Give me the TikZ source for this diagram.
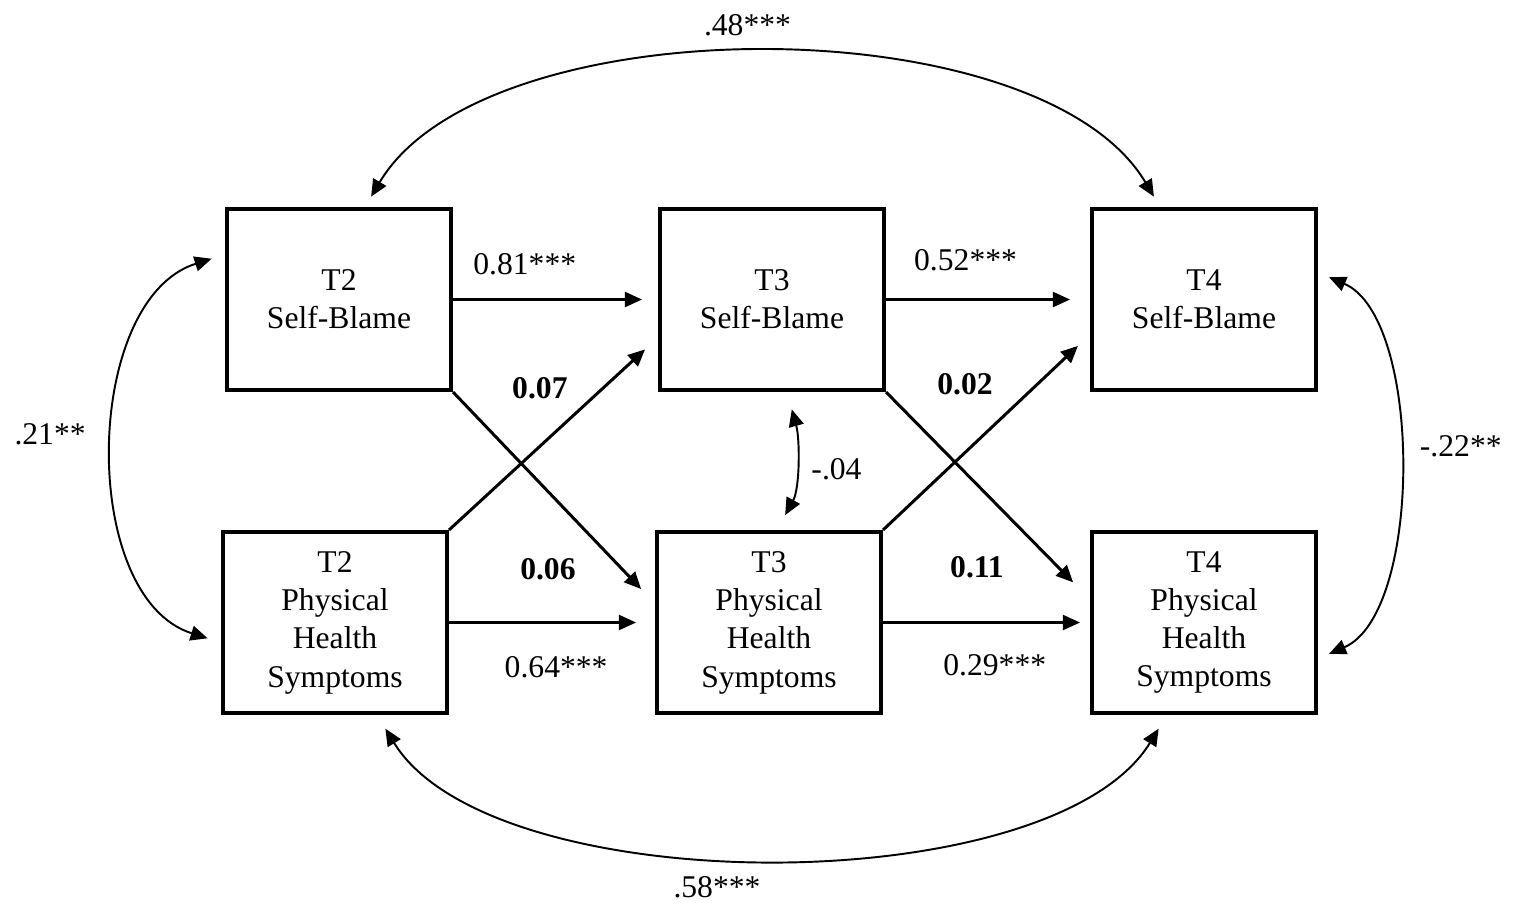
\documentclass[tikz,border=0pt]{standalone}
\usepackage{fontspec}
\setmainfont{Liberation Serif}
\usepackage{tikz}
\usetikzlibrary{positioning, arrows.meta, calc}
\tikzstyle{varbox} = [rectangle, draw, line width=2.3pt, minimum width=4.48cm,
    minimum height=3.62cm, align=center, font=\fontsize{18}{21.8}\selectfont]
\tikzstyle{coef} = [font=\fontsize{18}{21}\selectfont]
\tikzstyle{boldcoef} = [font=\fontsize{18}{21}\selectfont\bfseries]
\tikzstyle{regress} = [->, line width=1.2pt]
\tikzstyle{crosslag} = [->, line width=1.7pt]
\tikzstyle{covar} = [<->, line width=1.1pt]

\begin{document}
\begin{tikzpicture}[node distance=8.66cm, >={Triangle[length=0.34cm,width=0.3cm]}]
                      \useasboundingbox (0,0) rectangle (30.28,-18.12);
                      % Nodes
                      \node [varbox] (sb2) at (6.78,-5.99) {T2\\Self-Blame};
                      \node [varbox, right of=sb2] (sb3) {T3\\Self-Blame};
                      \node [varbox, right of=sb3, node distance=8.64cm] (sb4) {T4\\Self-Blame};

                      \node [varbox, below of=sb2, node distance=6.46cm, xshift=-0.08cm] (ph2) {T2\\Physical\\Health\\Symptoms};
                      \node [varbox, below of=sb3, node distance=6.46cm, xshift=-0.06cm] (ph3) {T3\\Physical\\Health\\Symptoms};
                      \node [varbox, below of=sb4, node distance=6.46cm] (ph4) {T4\\Physical\\Health\\Symptoms};

                      % Stability paths
                      \draw [regress, shorten >=0.32cm] (sb2) -- node[coef, pos=0.35, yshift=0.7cm] {0.81***} (sb3);
                      \draw [regress, shorten >=0.4cm] (sb3) -- node[coef, pos=0.39, yshift=0.78cm] {0.52***} (sb4);
                      \draw [regress, shorten >=0.38cm] (ph2) -- node[coef, pos=0.52, yshift=-0.9cm] {0.64***} (ph3);
                      \draw [regress, shorten >=0.2cm] (ph3) -- node[coef, pos=0.54, yshift=-0.86cm] {0.29***} (ph4);

                      % Cross-lagged paths
                      \draw [crosslag, shorten >=0.35cm] (ph2.north east) -- node[boldcoef, pos=0.435, yshift=1.16cm] {0.07} ([yshift=-0.76cm]sb3.west);
                      \draw [crosslag, shorten >=0.4cm] (sb2.south east) -- node[boldcoef, pos=0.47, yshift=-1.56cm] {0.06} ([yshift=0.38cm]ph3.west);
                      \draw [crosslag, shorten >=0.33cm] (ph3.north east) -- node[boldcoef, pos=0.396, yshift=1.36cm] {0.02} ([yshift=-0.7cm]sb4.west);
                      \draw [crosslag, shorten >=0.48cm] (sb3.south east) -- node[boldcoef, pos=0.446, yshift=-1.66cm] {0.11} ([yshift=0.46cm]ph4.west);

                      % Covariances
                      \draw [covar, shorten <=0.24cm, shorten >=0.24cm] ([xshift=0.52cm]sb2.north) .. controls +(2.4,4.05) and +(-2.4,4.05) .. node[coef, pos=0.5, xshift=-0.3cm, yshift=0.6cm] {.48***} ([xshift=-0.88cm]sb4.north);
                      \draw [covar, shorten <=0.32cm, shorten >=0.32cm] ([xshift=0.84cm]ph2.south) .. controls +(2.3,-3.75) and +(-2.3,-3.75) .. node[coef, pos=0.5, xshift=-1.1cm, yshift=-0.64cm] {.58***} ([xshift=-0.74cm]ph4.south);
                      \draw [covar, shorten <=0.28cm, shorten >=0.28cm] ([yshift=0.9cm]sb2.west) .. controls +(-2.85,-0.9) and +(-2.85,0.9) .. node[coef, pos=0.5, xshift=-1.32cm, yshift=0.28cm] {.21**} ([yshift=-0.4cm]ph2.west);
                      \draw [covar, shorten <=0.24cm, shorten >=0.24cm] ([yshift=0.54cm]sb4.east) .. controls +(2.1,-0.9) and +(2.1,0.9) .. node[coef, pos=0.5, xshift=1.28cm, yshift=0.38cm] {-.22**} ([yshift=-0.72cm]ph4.east);
                      \draw [covar, shorten <=0.36cm, shorten >=0.34cm] ([xshift=0.3cm]sb3.south) .. controls +(0.26,-0.94) and +(0.46,0.84) .. node[coef, pos=0.5, xshift=0.82cm, yshift=-0.12cm] {-.04} ([xshift=0.16cm]ph3.north);

                  \end{tikzpicture}
\end{document}
